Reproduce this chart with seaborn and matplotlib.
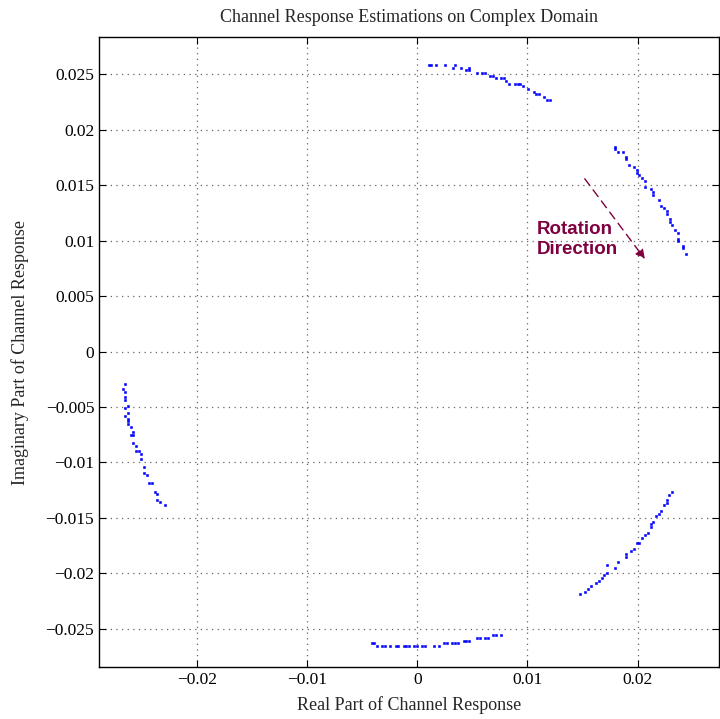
import numpy as np
import pandas as pd
import seaborn as sns
import matplotlib.pyplot as plt
from matplotlib.ticker import FuncFormatter

# puntos (parte real / imaginaria), por grupos
re_top = [0.00103, 0.00127, 0.00173, 0.00248, 0.00321, 0.00345, 0.00397, 0.00445, 0.00470, 0.00470,
          0.00542, 0.00591, 0.00615, 0.00664, 0.00688, 0.00712, 0.00761, 0.00785, 0.00809, 0.00833,
          0.00888, 0.00912, 0.00936, 0.00961, 0.01009, 0.01058, 0.01082, 0.01106, 0.01155, 0.01179, 0.01203]
im_top = [0.02586, 0.02586, 0.02586, 0.02586, 0.02562, 0.02586, 0.02562, 0.02537, 0.02562, 0.02537,
          0.02514, 0.02514, 0.02514, 0.02489, 0.02489, 0.02465, 0.02465, 0.02465, 0.02441, 0.02417,
          0.02417, 0.02417, 0.02417, 0.02393, 0.02369, 0.02345, 0.02321, 0.02321, 0.02297, 0.02273, 0.02273]

re_right = [0.01800, 0.01800, 0.01821, 0.01870, 0.01897, 0.01897, 0.01924, 0.01970, 0.01994, 0.01994,
            0.02018, 0.02042, 0.02070, 0.02070, 0.02118, 0.02139, 0.02139, 0.02191, 0.02215, 0.02242,
            0.02264, 0.02264, 0.02291, 0.02291, 0.02315, 0.02343, 0.02367, 0.02367, 0.02367, 0.02412,
            0.02412, 0.02439]
im_right = [0.01850, 0.01829, 0.01805, 0.01805, 0.01757, 0.01733, 0.01682, 0.01661, 0.01634, 0.01613,
            0.01589, 0.01565, 0.01541, 0.01486, 0.01468, 0.01438, 0.01411, 0.01366, 0.01315, 0.01294,
            0.01268, 0.01241, 0.01192, 0.01168, 0.01144, 0.01099, 0.01066, 0.01018, 0.01000, 0.00952,
            0.00931, 0.00883]

re_left = [-0.02655, -0.02676, -0.02652, -0.02652, -0.02652, -0.02627, -0.02652, -0.02627, -0.02652, -0.02627,
           -0.02627, -0.02627, -0.02603, -0.02579, -0.02603, -0.02579, -0.02579, -0.02555, -0.02555, -0.02530,
           -0.02506, -0.02506, -0.02482, -0.02482, -0.02458, -0.02433, -0.02409, -0.02385, -0.02361, -0.02361,
           -0.02336, -0.02288]
im_left = [-0.00291, -0.00340, -0.00363, -0.00412, -0.00435, -0.00489, -0.00511, -0.00559, -0.00583, -0.00606,
           -0.00631, -0.00655, -0.00682, -0.00730, -0.00754, -0.00754, -0.00826, -0.00850, -0.00901, -0.00901,
           -0.00925, -0.00973, -0.01045, -0.01093, -0.01117, -0.01189, -0.01189, -0.01264, -0.01288, -0.01336,
           -0.01360, -0.01385]

re_lowright = [0.01482, 0.01527, 0.01552, 0.01579, 0.01627, 0.01652, 0.01676, 0.01700, 0.01724, 0.01724,
               0.01797, 0.01821, 0.01894, 0.01894, 0.01942, 0.01967, 0.01991, 0.02018, 0.02042, 0.02067,
               0.02091, 0.02118, 0.02118, 0.02142, 0.02167, 0.02191, 0.02215, 0.02239, 0.02264, 0.02264,
               0.02288, 0.02315]
im_lowright = [-0.02189, -0.02168, -0.02147, -0.02120, -0.02093, -0.02069, -0.02048, -0.02021, -0.01997, -0.01922,
               -0.01949, -0.01898, -0.01850, -0.01826, -0.01802, -0.01778, -0.01730, -0.01730, -0.01679, -0.01658,
               -0.01634, -0.01583, -0.01559, -0.01538, -0.01486, -0.01462, -0.01439, -0.01387, -0.01367, -0.01342,
               -0.01295, -0.01264]

re_bottom = [-0.00412, -0.00391, -0.00367, -0.00318, -0.00294, -0.00245, -0.00197, -0.00173, -0.00124, -0.00100,
             -0.00076, -0.00027, -0.00003, 0.00045, 0.00070, 0.00148, 0.00197, 0.00245, 0.00270, 0.00318,
             0.00343, 0.00367, 0.00421, 0.00445, 0.00470, 0.00542, 0.00567, 0.00615, 0.00639, 0.00688,
             0.00712, 0.00761]
im_bottom = [-0.02634, -0.02634, -0.02658, -0.02658, -0.02658, -0.02658, -0.02658, -0.02658, -0.02658, -0.02658,
             -0.02658, -0.02658, -0.02658, -0.02658, -0.02658, -0.02658, -0.02658, -0.02634, -0.02634, -0.02634,
             -0.02634, -0.02634, -0.02610, -0.02610, -0.02610, -0.02586, -0.02586, -0.02586, -0.02586, -0.02561,
             -0.02561, -0.02561]

x_ticks = [-0.02, -0.01, 0, 0.01, 0.02]
y_ticks = [-0.025, -0.02, -0.015, -0.01, -0.005, 0, 0.005, 0.01, 0.015, 0.02, 0.025]

# flecha de rotacion (inicio -> fin)
arrow_start = (0.01506, 0.01579)
arrow_end = (0.02082, 0.00814)

df = pd.DataFrame({
    're': re_top + re_right + re_left + re_lowright + re_bottom,
    'im': im_top + im_right + im_left + im_lowright + im_bottom,
})

sns.set_theme(style='white')
plt.rcParams['font.family'] = ['Liberation Serif', 'DejaVu Serif']
plt.rcParams['axes.unicode_minus'] = True

fig = plt.figure(figsize=(7.2, 7.19), dpi=100)
ax = fig.add_axes([0.1375, 0.0723, 0.8605, 0.8762])

sns.scatterplot(data=df, x='re', y='im', ax=ax, marker='s', s=4, color='blue',
                edgecolor='blue', linewidth=0.4, legend=False)

ax.set_xlim(-0.0289, 0.02736)
ax.set_ylim(-0.02847, 0.02838)
ax.set_xticks(x_ticks)
ax.set_yticks(y_ticks)
fmt = FuncFormatter(lambda v, p: ('%g' % v).replace('-', '\u2212'))
ax.xaxis.set_major_formatter(fmt)
ax.yaxis.set_major_formatter(fmt)
ax.tick_params(direction='in', length=5, width=0.8, labelsize=12.5, colors='black',
               top=True, right=True, bottom=True, left=True)
ax.grid(True, linestyle=(0, (1, 3.5)), color='#666666', linewidth=0.9)
for s in ax.spines.values():
    s.set_color('black')
    s.set_linewidth(1.0)

ax.set_title('Channel Response Estimations on Complex Domain', fontsize=13, pad=11)
ax.set_xlabel('Real Part of Channel Response', fontsize=13, labelpad=6)
ax.set_ylabel('Imaginary Part of Channel Response', fontsize=13, labelpad=12)

maroon = '#7f0040'
ax.annotate('', xy=arrow_end, xytext=arrow_start,
            arrowprops=dict(arrowstyle='-|>', color=maroon, linestyle=(0, (6, 4)),
                            linewidth=1.0, mutation_scale=14))
ax.text(0.01082, 0.01009, 'Rotation\nDirection', color=maroon, fontsize=13.5,
        fontweight='bold', family=['Liberation Sans', 'DejaVu Sans'], va='center', ha='left',
        linespacing=1.25)

plt.savefig('out.png', dpi=100)
